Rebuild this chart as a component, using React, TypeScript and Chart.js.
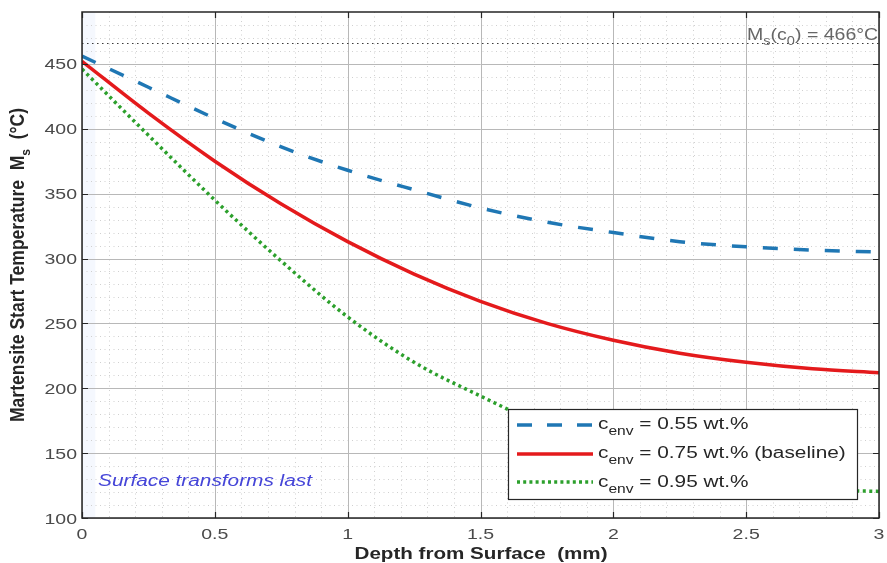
import React, { useEffect, useRef } from "react";
import { Chart, registerables } from "chart.js";

Chart.register(...registerables);

// ---- data ----
const DEPTH_MM = [0, 0.25, 0.5, 0.75, 1, 1.25, 1.5, 1.75, 2, 2.25, 2.5, 2.75, 3];
const MS_CENV_055 = [456, 432, 408, 386, 368, 353, 339, 328, 320, 313, 309, 306.5, 305];
const MS_CENV_075 = [452, 412, 375, 342, 313, 288, 267, 250, 237, 227, 220, 215, 212];
const MS_CENV_095 = [446, 395, 345, 298, 255, 220, 194, 170, 150, 136, 127, 122, 120.5];
const SERIES_LABELS = ["= 0.55 wt.%", "= 0.75 wt.% (baseline)", "= 0.95 wt.%"];
const X_TICKS = [0, 0.5, 1, 1.5, 2, 2.5, 3];
const X_TICK_LABELS = ["0", "0.5", "1", "1.5", "2", "2.5", "3"];
const Y_TICKS = [100, 150, 200, 250, 300, 350, 400, 450];
const Y_TICK_LABELS = ["100", "150", "200", "250", "300", "350", "400", "450"];
const MS_C0 = 466;
const SURFACE_BAND_MM = 0.05;

const BLUE = "#1f77b4";
const RED = "#e41a1c";
const GREEN = "#2ca02c";
const SX = 1.3;
const FONT = "'Liberation Sans', Arial, Helvetica, sans-serif";

type Run = { t: string; f: string; dy?: number };

function runsWidth(ctx: CanvasRenderingContext2D, runs: Run[]) {
  let w = 0;
  for (const r of runs) {
    ctx.font = r.f;
    w += ctx.measureText(r.t).width;
  }
  return w;
}

function drawRuns(ctx: CanvasRenderingContext2D, runs: Run[], x: number, y: number, sx: number, color: string) {
  ctx.save();
  ctx.translate(x, y);
  ctx.scale(sx, 1);
  ctx.fillStyle = color;
  ctx.textAlign = "left";
  ctx.textBaseline = "alphabetic";
  let cx = 0;
  for (const r of runs) {
    ctx.font = r.f;
    ctx.fillText(r.t, cx, r.dy || 0);
    cx += ctx.measureText(r.t).width;
  }
  ctx.restore();
}

const backgroundPlugin = {
  id: "bgGrid",
  beforeDatasetsDraw(chart: any) {
    const ctx: CanvasRenderingContext2D = chart.ctx;
    const { left, right, top, bottom } = chart.chartArea;
    const xs = chart.scales.x;
    const ys = chart.scales.y;
    ctx.save();
    ctx.fillStyle = "#ffffff";
    ctx.fillRect(left, top, right - left, bottom - top);
    // surface band
    ctx.fillStyle = "rgba(225,235,252,0.35)";
    const bx = xs.getPixelForValue(SURFACE_BAND_MM);
    ctx.fillRect(left, top, bx - left, bottom - top);

    // minor grid (dotted)
    ctx.strokeStyle = "#d0d0d0";
    ctx.lineWidth = 1;
    ctx.setLineDash([1, 3.5]);
    for (let i = 1; i < 30; i++) {
      if (i % 5 === 0) continue;
      const px = Math.round(xs.getPixelForValue(i / 10)) + 0.5;
      ctx.beginPath();
      ctx.moveTo(px, top);
      ctx.lineTo(px, bottom);
      ctx.stroke();
    }
    for (let v = 110; v < 490; v += 10) {
      if (v % 50 === 0) continue;
      const py = Math.round(ys.getPixelForValue(v)) + 0.5;
      ctx.beginPath();
      ctx.moveTo(left, py);
      ctx.lineTo(right, py);
      ctx.stroke();
    }
    // major grid
    ctx.setLineDash([]);
    ctx.strokeStyle = "#b8b8b8";
    for (const v of X_TICKS) {
      const px = Math.round(xs.getPixelForValue(v)) + 0.5;
      ctx.beginPath();
      ctx.moveTo(px, top);
      ctx.lineTo(px, bottom);
      ctx.stroke();
    }
    for (const v of Y_TICKS) {
      const py = Math.round(ys.getPixelForValue(v)) + 0.5;
      ctx.beginPath();
      ctx.moveTo(left, py);
      ctx.lineTo(right, py);
      ctx.stroke();
    }
    // Ms(c0) reference line
    ctx.strokeStyle = "#3a3a3a";
    ctx.lineWidth = 1.2;
    ctx.setLineDash([1.5, 3.5]);
    const ry = Math.round(ys.getPixelForValue(MS_C0)) + 0.5;
    ctx.beginPath();
    ctx.moveTo(left, ry);
    ctx.lineTo(right, ry);
    ctx.stroke();
    ctx.restore();
  },
};

const foregroundPlugin = {
  id: "fgAxes",
  afterDatasetsDraw(chart: any) {
    const ctx: CanvasRenderingContext2D = chart.ctx;
    const { left, right, top, bottom } = chart.chartArea;
    const xs = chart.scales.x;
    const ys = chart.scales.y;
    ctx.save();

    // Ms(c0) annotation
    const ry = ys.getPixelForValue(MS_C0);
    const fA = `16px ${FONT}`;
    const fAs = `12px ${FONT}`;
    drawRuns(
      ctx,
      [
        { t: "M", f: fA },
        { t: "s", f: fAs, dy: 5 },
        { t: "(c", f: fA },
        { t: "0", f: fAs, dy: 5 },
        { t: ") = " + MS_C0 + "°C", f: fA },
      ],
      747,
      ry - 3.5,
      1.22,
      "#666666"
    );

    // Surface note
    const fIt = `italic 16px ${FONT}`;
    const noteRuns = [{ t: "Surface transforms last", f: fIt }];
    const nw = runsWidth(ctx, noteRuns);
    drawRuns(ctx, noteRuns, 98, 486, 214 / nw, "#4545d8");

    // frame
    ctx.setLineDash([]);
    ctx.strokeStyle = "#262626";
    ctx.lineWidth = 1.5;
    ctx.strokeRect(left, top, right - left, bottom - top);

    // tick marks (inward)
    ctx.lineWidth = 1.2;
    const tl = 6;
    for (const v of X_TICKS) {
      const px = Math.round(xs.getPixelForValue(v)) + 0.5;
      ctx.beginPath();
      ctx.moveTo(px, bottom);
      ctx.lineTo(px, bottom - tl);
      ctx.moveTo(px, top);
      ctx.lineTo(px, top + tl);
      ctx.stroke();
    }
    for (const v of Y_TICKS) {
      const py = Math.round(ys.getPixelForValue(v)) + 0.5;
      ctx.beginPath();
      ctx.moveTo(left, py);
      ctx.lineTo(left + tl, py);
      ctx.moveTo(right, py);
      ctx.lineTo(right - tl, py);
      ctx.stroke();
    }

    // tick labels
    const fTick = `15px ${FONT}`;
    const tickColor = "#4a4a4a";
    X_TICKS.forEach((v, i) => {
      const runs = [{ t: X_TICK_LABELS[i], f: fTick }];
      const w = runsWidth(ctx, runs) * SX;
      drawRuns(ctx, runs, xs.getPixelForValue(v) - w / 2, 539, SX, tickColor);
    });
    Y_TICKS.forEach((v, i) => {
      const runs = [{ t: Y_TICK_LABELS[i], f: fTick }];
      const w = runsWidth(ctx, runs) * SX;
      drawRuns(ctx, runs, 77 - w, ys.getPixelForValue(v) + 5.5, SX, tickColor);
    });

    // x title
    const fTitle = `bold 16px ${FONT}`;
    const xRuns = [{ t: "Depth from Surface  (mm)", f: fTitle }];
    const xw = runsWidth(ctx, xRuns);
    const xsx = 253 / xw;
    drawRuns(ctx, xRuns, 481 - (xw * xsx) / 2, 559, xsx, "#262626");

    // y title (rotated)
    const fYT = `bold 16px ${FONT}`;
    const fYS = `bold 11px ${FONT}`;
    const yRuns: Run[] = [
      { t: "Martensite Start Temperature  M", f: fYT },
      { t: "s", f: fYS, dy: 5 },
      { t: "  (°C)", f: fYT },
    ];
    const yw = runsWidth(ctx, yRuns);
    const yfit = 314 / yw;
    ctx.save();
    ctx.translate(24, (top + bottom) / 2);
    ctx.scale(SX * 0.95, 1);
    ctx.rotate(-Math.PI / 2);
    drawRuns(ctx, yRuns, -(yw * yfit) / 2, 0, yfit, "#262626");
    ctx.restore();

    // legend
    const lx0 = 508, ly0 = 409, lx1 = 857, ly1 = 499;
    ctx.fillStyle = "#ffffff";
    ctx.fillRect(lx0, ly0, lx1 - lx0, ly1 - ly0);
    ctx.strokeStyle = "#262626";
    ctx.lineWidth = 1.2;
    ctx.strokeRect(lx0 + 0.5, ly0 + 0.5, lx1 - lx0, ly1 - ly0);
    const rows = [
      { color: BLUE, dash: [15, 15], lineY: 425, baseY: 428.5 },
      { color: RED, dash: [], lineY: 454, baseY: 458 },
      { color: GREEN, dash: [3, 3.2], lineY: 482, baseY: 487 },
    ];
    const fL = `16px ${FONT}`;
    const fLs = `12px ${FONT}`;
    rows.forEach((r, i) => {
      ctx.save();
      ctx.strokeStyle = r.color;
      ctx.lineWidth = 3.5;
      ctx.lineCap = "butt";
      ctx.setLineDash(r.dash);
      ctx.beginPath();
      ctx.moveTo(517, r.lineY);
      ctx.lineTo(593, r.lineY);
      ctx.stroke();
      ctx.restore();
      drawRuns(
        ctx,
        [
          { t: "c", f: fL },
          { t: "env", f: fLs, dy: 6 },
          { t: " " + SERIES_LABELS[i], f: fL },
        ],
        598,
        r.baseY,
        SX,
        "#262626"
      );
    });

    ctx.restore();
  },
};

function toPoints(ys: number[]) {
  return DEPTH_MM.map((x, i) => ({ x, y: ys[i] }));
}

export default function App() {
  const ref = useRef<HTMLCanvasElement | null>(null);

  useEffect(() => {
    document.body.style.margin = "0";
    const canvas = ref.current;
    if (!canvas) return;
    const chart = new Chart(canvas, {
      type: "line",
      data: {
        datasets: [
          {
            label: "c_env = 0.55 wt.%",
            data: toPoints(MS_CENV_055),
            borderColor: BLUE,
            borderWidth: 3.5,
            borderDash: [15, 16],
            pointRadius: 0,
            cubicInterpolationMode: "monotone",
            fill: false,
            order: 3,
          },
          {
            label: "c_env = 0.75 wt.% (baseline)",
            data: toPoints(MS_CENV_075),
            borderColor: RED,
            borderWidth: 3.5,
            pointRadius: 0,
            cubicInterpolationMode: "monotone",
            fill: false,
            order: 2,
          },
          {
            label: "c_env = 0.95 wt.%",
            data: toPoints(MS_CENV_095),
            borderColor: GREEN,
            borderWidth: 3.5,
            borderDash: [3, 3.5],
            pointRadius: 0,
            cubicInterpolationMode: "monotone",
            fill: false,
            order: 1,
          },
        ],
      },
      options: {
        responsive: false,
        animation: false,
        devicePixelRatio: 1,
        events: [],
        layout: { padding: { left: 82, right: 8, top: 12, bottom: 45 } },
        scales: {
          x: { type: "linear", min: 0, max: 3, display: false },
          y: { type: "linear", min: 100, max: 490, display: false },
        },
        plugins: {
          legend: { display: false },
          tooltip: { enabled: false },
          title: { display: false },
        },
      },
      plugins: [backgroundPlugin, foregroundPlugin],
    } as any);
    return () => chart.destroy();
  }, []);

  return (
    <div style={{ width: 887, height: 563, background: "#ffffff" }}>
      <canvas ref={ref} width={887} height={563} style={{ display: "block" }} />
    </div>
  );
}
